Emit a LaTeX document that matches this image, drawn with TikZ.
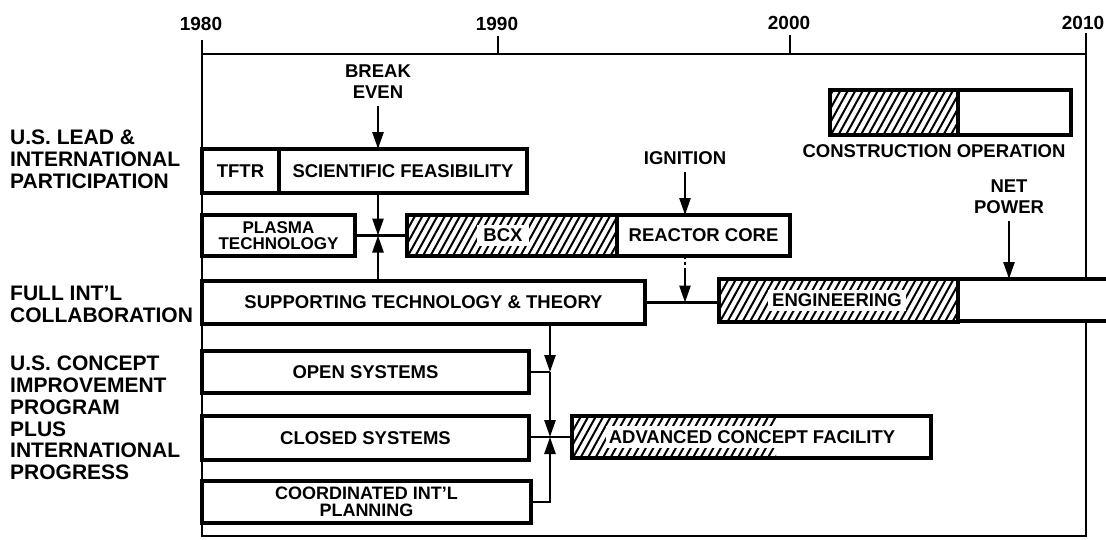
\documentclass[tikz,border=0pt]{standalone}
\usepackage{fontspec}
\setmainfont{Liberation Sans}
\usetikzlibrary{arrows.meta}
\newcommand\hatcharea[4]{%
  \begin{scope}
    \clip (#1,#2) rectangle (#3,#4);
    \foreach \k in {-40,-32.5,...,330}{
      \draw[hl] ({#1+\k},{#4+6}) -- ++(31,-56);
    }
  \end{scope}}
\begin{document}
\begin{tikzpicture}[x=1pt,y=-1pt,
  every node/.style={font=\bfseries\fontsize{18.5}{21}\selectfont},
  box/.style={draw, line width=3.1pt, inner sep=0pt, outer sep=0pt, anchor=north west, fill=white, align=center},
  hbox/.style={draw, line width=3.1pt, inner sep=0pt, outer sep=0pt, anchor=north west},
  frame/.style={line width=2.6pt},
  conn/.style={line width=2.6pt},
  tip/.style={-{Triangle[length=17pt,width=11pt]}},
  hl/.style={line width=2pt},
  wlab/.style={fill=white, inner xsep=4pt, inner ysep=4pt},
  side/.style={font=\bfseries\fontsize{21}{21.8}\selectfont, align=left, anchor=west, inner sep=0pt},
  year/.style={font=\bfseries\fontsize{19}{20}\selectfont, inner sep=0pt},
  evlab/.style={align=center, inner sep=0pt},
]
\useasboundingbox (0,0) rectangle (1106,539);
\fill[white] (0,0) rectangle (1106,539);

% frame and time axis
\draw[frame] (202,40) -- (202,536) -- (1086,536) -- (1086,33);
\draw[frame] (202,54) -- (1086,54);
\draw[frame] (498,36) -- (498,54);
\draw[frame] (790,35) -- (790,54);
\node[year] (y1980) at (201,24) {1980};
\node[year] (y1990) at (497,24) {1990};
\node[year] (y2000) at (789,23) {2000};
\node[year] (y2010) at (1083,23) {2010};

% side labels
\node[side] (l1) at (10,159.5) {U.S. LEAD \&\\INTERNATIONAL\\PARTICIPATION};
\node[side] (l2) at (10,304) {FULL INT'L\\COLLABORATION};
\node[side] (l3) at (10,418) {U.S. CONCEPT\\IMPROVEMENT\\PROGRAM\\PLUS\\INTERNATIONAL\\PROGRESS};

% hatching
\hatcharea{830}{90}{958}{135}
\hatcharea{407}{215}{617}{256}
\hatcharea{719}{279}{958}{322}
\hatcharea{572}{416}{776}{458}

% boxes
\node[hbox, minimum width=128, minimum height=45] (conh) at (830,90) {};
\node[box, minimum width=113, minimum height=45] (conw) at (958,90) {};
\node (conlab) at (934,151) {CONSTRUCTION OPERATION};

\node[box, minimum width=77, minimum height=44] (tftr) at (202,149) {TFTR};
\node[box, minimum width=248, minimum height=44] (sci) at (279,149) {SCIENTIFIC FEASIBILITY};

\node[box, minimum width=153, minimum height=41, font=\bfseries\fontsize{17}{16.5}\selectfont] (plasma) at (202,215) {PLASMA\\TECHNOLOGY};
\node[hbox, minimum width=210, minimum height=41] (bcxh) at (407,215) {};
\node[wlab, inner xsep=6pt] (bcxt) at (503,235.5) {BCX};
\node[box, minimum width=173, minimum height=41] (rc) at (617,215) {REACTOR CORE};

\node[box, minimum width=443, minimum height=43] (sup) at (202,281) {SUPPORTING TECHNOLOGY \& THEORY};
\node[hbox, minimum width=239, minimum height=43] (engh) at (719,279) {};
\node[wlab] (engt) at (837,300.5) {ENGINEERING};
\node[box, minimum width=170, minimum height=42] (engw) at (958,279) {};

\node[box, minimum width=327, minimum height=42] (open) at (202,351) {OPEN SYSTEMS};
\node[box, minimum width=327, minimum height=44] (closed) at (202,416) {CLOSED SYSTEMS};
\node[box, minimum width=329, minimum height=42, font=\bfseries\fontsize{18}{17}\selectfont] (coord) at (202,481) {COORDINATED INT'L\\PLANNING};
\node[hbox, minimum width=359, minimum height=42] (acf) at (572,416) {};
\node[wlab, inner xsep=3pt] (acft) at (752,437) {ADVANCED CONCEPT FACILITY};

% milestones
\node[evlab] (be) at (378,82) {BREAK\\EVEN};
\draw[conn,tip] ([yshift=-7pt]be.south) -- (be.south |- sci.north);
\node[evlab] (ign) at (685,158) {IGNITION};
\draw[conn,tip] ([yshift=-7pt]ign.south) -- (ign.south |- rc.north);
\node[evlab] (np) at (1009,197) {NET\\POWER};
\draw[conn,tip] ([yshift=-7pt]np.south) -- (np.south |- engw.north);

% junctions
\coordinate (j1) at (plasma.east -| be.south);
\coordinate (j2) at (sup.east -| ign.south);
\coordinate (ig3) at (685,270);
\coordinate (jo) at (550,372);
\coordinate (jc) at (550,437);
\coordinate (jd) at (550,502);

% connectors
\draw[conn,tip] (sci.south -| j1) -- (j1);
\draw[conn,tip] (sup.north -| j1) -- (j1);
\draw[conn] (plasma.east) -- (plasma.east -| bcxh.west);

\draw[conn] (sup.east) -- (sup.east -| engh.west);
\draw[line width=1.6pt, dash pattern=on 3pt off 3pt] (rc.south -| ig3) -- (ig3);
\draw[conn,tip] (ig3) -- (j2);

\draw[conn,tip] (sup.south -| jo) -- (jo);
\draw[conn] (open.east |- jo) -- (jo);
\draw[conn,tip] (jo) -- (jc);
\draw[conn,tip] (coord.east |- jd) -- (jd) -- (jc);
\draw[conn] (closed.east |- jc) -- (acf.west |- jc);
\end{tikzpicture}
\end{document}
